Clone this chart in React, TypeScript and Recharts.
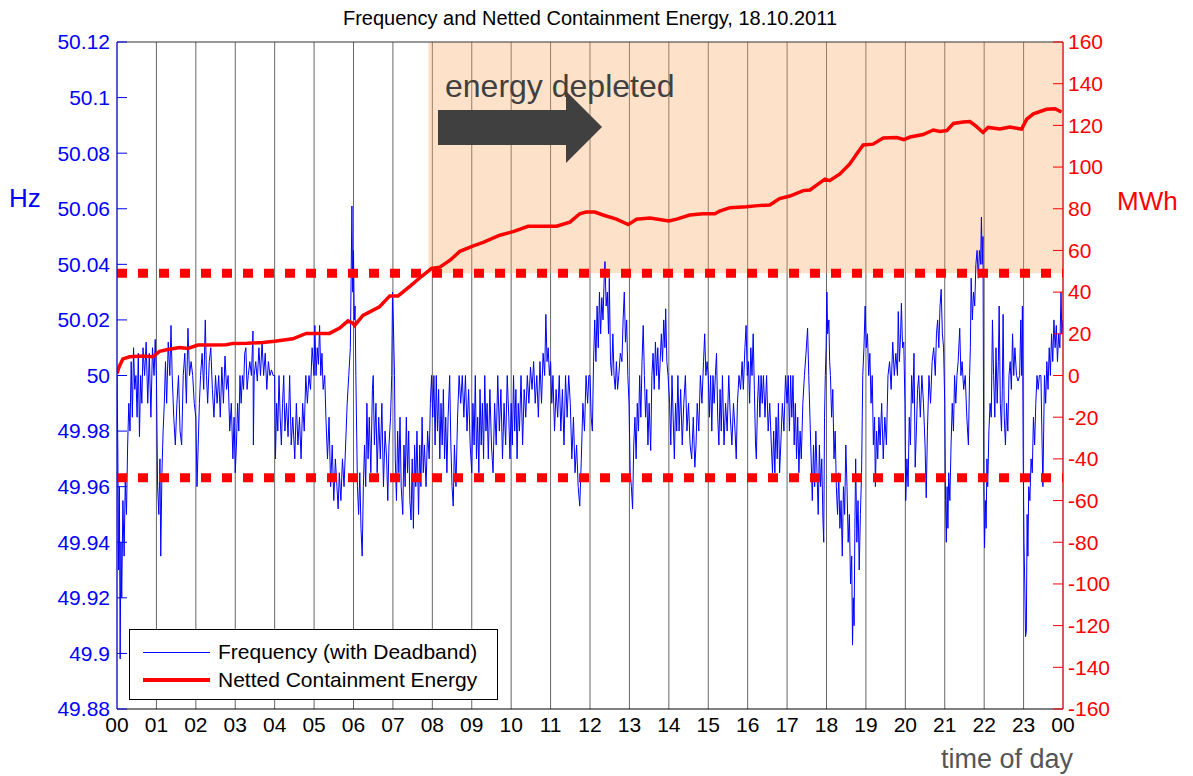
import React from 'react'
import {
  ComposedChart, Line, XAxis, YAxis, CartesianGrid,
  ReferenceArea, ReferenceLine,
} from 'recharts'

// hour ticks, axis ticks
const HOURS = [0, 1, 2, 3, 4, 5, 6, 7, 8, 9, 10, 11, 12, 13, 14, 15, 16, 17, 18, 19, 20, 21, 22, 23, 24]
const HZ_TICKS = [49.88, 49.9, 49.92, 49.94, 49.96, 49.98, 50, 50.02, 50.04, 50.06, 50.08, 50.1, 50.12]
const MWH_TICKS = [-160, -140, -120, -100, -80, -60, -40, -20, 0, 20, 40, 60, 80, 100, 120, 140, 160]

// containment band (MWh) and start of the depleted period (hour)
const LIMIT_MWH = 49
const DEPLETED_FROM = 7.9

// frequency with deadband: [hour, Hz]
const FREQ: [number, number][] = [
  [0.00, 50.0], [0.02, 49.975], [0.04, 49.93], [0.06, 49.96], [0.08, 49.898], [0.10, 49.94], [0.12, 49.92], [0.15, 49.955],
  [0.18, 49.935], [0.21, 49.962], [0.24, 49.95], [0.27, 49.975], [0.30, 49.99], [0.33, 49.98], [0.36, 50.005], [0.39, 49.985],
  [0.42, 50.01], [0.45, 49.995], [0.48, 50.0], [0.51, 49.985], [0.54, 50.008], [0.57, 49.978], [0.60, 50.0], [0.63, 49.99],
  [0.66, 50.01], [0.70, 50.0], [0.74, 50.012], [0.78, 49.99], [0.82, 50.008], [0.86, 49.985], [0.90, 50.01], [0.94, 50.0], [0.97, 50.013],
  [1.00, 50.0], [1.03, 49.96], [1.06, 49.95], [1.09, 49.97], [1.11, 49.935], [1.14, 49.965], [1.17, 49.98], [1.20, 49.99],
  [1.23, 50.005], [1.26, 49.99], [1.30, 50.012], [1.34, 50.0], [1.37, 50.018], [1.40, 50.0], [1.44, 49.985], [1.48, 49.975],
  [1.52, 49.99], [1.56, 50.0], [1.60, 49.98], [1.64, 49.975], [1.68, 50.0], [1.72, 50.008], [1.76, 49.99], [1.80, 50.017],
  [1.84, 50.0], [1.88, 50.005], [1.92, 50.0], [1.96, 49.99],
  [2.00, 49.985], [2.03, 49.96], [2.06, 49.975], [2.09, 49.99], [2.12, 50.0], [2.16, 50.008], [2.20, 49.995], [2.24, 50.02],
  [2.27, 50.0], [2.30, 49.99], [2.34, 50.005], [2.38, 50.01], [2.42, 49.995], [2.46, 49.985], [2.50, 50.0], [2.54, 49.99],
  [2.58, 50.0], [2.62, 49.985], [2.66, 50.003], [2.70, 49.99], [2.74, 50.007], [2.78, 49.995], [2.82, 50.0], [2.86, 49.98],
  [2.90, 49.99], [2.94, 49.97], [2.97, 49.985],
  [3.00, 49.965], [3.03, 49.975], [3.06, 49.99], [3.09, 49.98], [3.12, 50.0], [3.15, 49.99], [3.18, 50.0], [3.21, 49.995],
  [3.24, 50.008], [3.27, 50.01], [3.30, 49.995], [3.33, 50.0], [3.37, 50.005], [3.41, 50.0], [3.45, 50.016], [3.46, 49.975],
  [3.48, 50.0], [3.52, 50.005], [3.56, 49.998], [3.60, 50.01], [3.64, 50.0], [3.68, 50.012], [3.72, 50.0], [3.76, 50.008],
  [3.80, 49.995], [3.84, 50.005], [3.88, 50.0], [3.92, 50.002], [3.96, 50.0],
  [4.00, 50.0], [4.02, 49.97], [4.05, 49.99], [4.08, 49.98], [4.11, 50.0], [4.14, 49.985], [4.17, 49.975], [4.20, 49.99],
  [4.23, 50.0], [4.26, 49.98], [4.30, 49.99], [4.34, 49.978], [4.38, 50.0], [4.42, 49.975], [4.46, 49.985], [4.51, 49.97],
  [4.55, 49.99], [4.59, 49.975], [4.63, 49.985], [4.67, 49.97], [4.71, 49.99], [4.75, 49.98], [4.79, 50.0], [4.83, 49.99],
  [4.87, 50.0], [4.91, 49.995], [4.95, 50.01],
  [5.00, 50.0], [5.02, 50.018], [5.05, 50.0], [5.08, 50.01], [5.11, 50.004], [5.14, 50.018], [5.17, 50.0], [5.20, 50.008],
  [5.23, 49.995], [5.27, 50.0], [5.30, 49.985], [5.34, 49.97], [5.38, 49.985], [5.42, 49.96], [5.46, 49.975], [5.50, 49.955],
  [5.54, 49.97], [5.58, 49.96], [5.61, 49.952], [5.64, 49.965], [5.68, 49.955], [5.72, 49.97], [5.76, 49.96], [5.80, 49.975],
  [5.84, 49.99], [5.88, 50.0], [5.92, 50.01], [5.96, 50.061],
  [5.98, 50.03], [6.00, 50.045], [6.02, 50.02], [6.04, 50.025], [6.06, 50.0], [6.08, 49.98], [6.10, 49.96], [6.13, 49.95],
  [6.16, 49.965], [6.19, 49.945], [6.22, 49.935], [6.25, 49.96], [6.28, 49.975], [6.31, 49.96], [6.34, 49.99], [6.37, 49.97],
  [6.40, 49.985], [6.44, 49.965], [6.48, 49.995], [6.50, 50.0], [6.53, 49.975], [6.57, 49.99], [6.60, 49.965], [6.64, 49.985],
  [6.68, 49.97], [6.72, 49.99], [6.76, 49.96], [6.80, 49.98], [6.84, 49.97], [6.87, 49.955], [6.90, 49.975], [6.94, 49.985],
  [6.97, 50.0], [6.99, 50.03], [7.01, 50.02], [7.04, 50.0],
  [7.06, 49.97], [7.09, 49.955], [7.12, 49.98], [7.15, 49.965], [7.18, 49.985], [7.21, 49.96], [7.25, 49.95], [7.28, 49.975],
  [7.31, 49.96], [7.34, 49.985], [7.37, 49.965], [7.40, 49.98], [7.43, 49.955], [7.46, 49.948], [7.49, 49.97], [7.52, 49.945],
  [7.55, 49.975], [7.58, 49.96], [7.61, 49.98], [7.65, 49.95], [7.68, 49.975], [7.71, 49.96], [7.74, 49.985], [7.77, 49.965],
  [7.80, 49.975], [7.84, 49.96], [7.88, 49.98], [7.92, 49.97], [7.95, 49.99],
  [7.98, 50.0], [8.01, 49.985], [8.04, 50.0], [8.07, 49.975], [8.10, 50.0], [8.13, 49.98], [8.16, 49.995], [8.19, 49.97],
  [8.22, 49.99], [8.25, 49.975], [8.28, 49.995], [8.31, 49.97], [8.34, 49.985], [8.37, 49.965], [8.40, 49.985], [8.44, 50.0],
  [8.47, 49.975], [8.50, 49.96], [8.53, 49.953], [8.56, 49.975], [8.60, 49.96], [8.64, 49.985], [8.68, 50.0], [8.72, 49.99],
  [8.76, 50.0], [8.80, 49.985], [8.84, 50.0], [8.88, 49.98], [8.92, 49.995], [8.96, 49.975],
  [9.00, 49.965], [9.03, 49.99], [9.06, 49.975], [9.09, 50.0], [9.12, 49.97], [9.15, 49.985], [9.18, 49.965], [9.21, 49.995],
  [9.24, 49.975], [9.27, 49.99], [9.30, 49.97], [9.33, 50.0], [9.36, 49.98], [9.39, 49.99], [9.42, 49.97], [9.46, 49.995],
  [9.50, 49.975], [9.54, 49.965], [9.58, 49.99], [9.62, 49.975], [9.66, 50.0], [9.70, 49.98], [9.74, 49.995], [9.78, 49.97],
  [9.82, 49.99], [9.86, 49.975], [9.90, 50.0], [9.94, 49.985], [9.97, 49.97],
  [10.00, 49.99], [10.03, 49.975], [10.06, 50.0], [10.09, 49.98], [10.12, 49.995], [10.15, 49.97], [10.18, 49.99], [10.21, 49.98],
  [10.25, 50.0], [10.29, 49.975], [10.33, 49.995], [10.37, 49.985], [10.41, 50.0], [10.45, 49.99], [10.49, 50.003], [10.53, 49.995],
  [10.57, 50.005], [10.61, 49.99], [10.65, 50.0], [10.69, 49.985], [10.73, 50.005], [10.77, 49.99], [10.81, 50.008], [10.85, 50.0],
  [10.88, 50.022], [10.91, 50.005], [10.94, 50.01], [10.97, 50.0],
  [11.00, 50.005], [11.03, 49.99], [11.06, 50.0], [11.10, 49.98], [11.14, 49.995], [11.18, 49.985], [11.22, 50.0], [11.26, 49.98],
  [11.30, 49.995], [11.34, 49.975], [11.38, 50.0], [11.42, 49.985], [11.46, 50.0], [11.50, 49.99], [11.54, 49.97], [11.58, 49.985],
  [11.62, 49.965], [11.66, 49.975], [11.70, 49.96], [11.74, 49.953], [11.78, 49.97], [11.82, 49.99], [11.86, 49.98], [11.90, 50.0],
  [11.94, 49.99], [11.97, 50.0],
  [12.00, 50.0], [12.03, 49.985], [12.06, 49.98], [12.09, 50.005], [12.12, 50.02], [12.15, 50.005], [12.18, 50.025], [12.21, 50.01],
  [12.24, 50.03], [12.27, 50.015], [12.30, 50.028], [12.33, 50.02], [12.36, 50.035], [12.38, 50.041], [12.41, 50.025], [12.44, 50.03],
  [12.47, 50.015], [12.49, 50.035], [12.52, 50.005], [12.55, 50.0], [12.58, 50.015], [12.61, 50.0], [12.64, 49.995], [12.67, 50.005],
  [12.70, 49.995], [12.73, 50.0], [12.77, 50.008], [12.81, 50.005], [12.84, 50.02], [12.87, 50.03], [12.90, 50.012], [12.93, 50.02],
  [12.96, 50.0], [12.99, 49.99],
  [13.02, 49.965], [13.05, 49.96], [13.08, 49.952], [13.11, 49.975], [13.14, 49.985], [13.17, 49.97], [13.20, 49.99], [13.23, 49.98],
  [13.26, 50.0], [13.29, 49.985], [13.32, 50.005], [13.35, 50.018], [13.38, 50.0], [13.41, 49.985], [13.44, 49.995], [13.47, 49.975],
  [13.50, 49.99], [13.54, 49.973], [13.57, 50.0], [13.60, 50.008], [13.63, 49.995], [13.66, 50.012], [13.69, 50.0], [13.72, 50.01],
  [13.75, 49.995], [13.78, 50.005], [13.81, 50.015], [13.84, 50.005], [13.87, 50.02], [13.90, 50.01], [13.92, 50.024], [13.95, 50.005],
  [13.98, 50.0],
  [14.02, 49.99], [14.05, 49.975], [14.08, 50.0], [14.11, 49.985], [14.14, 49.97], [14.17, 49.99], [14.20, 49.98], [14.23, 50.0],
  [14.26, 49.98], [14.30, 49.995], [14.34, 49.975], [14.38, 49.99], [14.42, 50.0], [14.46, 49.98], [14.50, 49.99], [14.54, 49.975],
  [14.58, 49.97], [14.62, 49.985], [14.66, 49.967], [14.69, 49.975], [14.72, 49.99], [14.76, 49.98], [14.80, 50.0], [14.84, 49.99],
  [14.88, 50.005], [14.91, 50.015], [14.94, 50.0], [14.97, 50.005],
  [15.00, 50.0], [15.03, 49.985], [15.06, 50.0], [15.09, 49.98], [15.12, 50.0], [15.15, 49.99], [15.18, 50.0], [15.21, 50.008],
  [15.24, 49.985], [15.27, 49.975], [15.30, 49.995], [15.33, 49.98], [15.36, 50.0], [15.40, 49.975], [15.44, 49.99], [15.48, 49.98],
  [15.52, 50.0], [15.56, 49.985], [15.60, 49.975], [15.64, 49.99], [15.68, 49.98], [15.71, 49.97], [15.74, 49.99], [15.78, 50.0],
  [15.82, 49.995], [15.86, 50.005], [15.89, 49.995], [15.93, 50.01], [15.96, 50.018], [15.99, 50.0],
  [16.02, 50.005], [16.05, 49.99], [16.08, 50.01], [16.11, 50.0], [16.14, 50.015], [16.17, 49.995], [16.20, 49.975], [16.22, 49.97],
  [16.25, 49.99], [16.28, 50.0], [16.31, 49.985], [16.34, 50.0], [16.37, 49.99], [16.40, 50.0], [16.44, 49.985], [16.48, 50.0],
  [16.52, 49.98], [16.56, 49.99], [16.60, 49.975], [16.63, 49.965], [16.66, 49.98], [16.69, 49.965], [16.72, 49.985], [16.75, 49.97],
  [16.78, 49.99], [16.81, 49.965], [16.84, 49.975], [16.88, 49.99], [16.92, 49.98], [16.96, 50.0],
  [17.00, 49.99], [17.03, 50.0], [17.06, 49.98], [17.09, 50.0], [17.12, 49.985], [17.15, 50.0], [17.18, 49.975], [17.21, 49.99],
  [17.24, 49.97], [17.27, 49.985], [17.30, 49.965], [17.33, 49.98], [17.36, 49.97], [17.40, 49.99], [17.44, 50.0], [17.48, 50.008],
  [17.52, 50.017], [17.55, 50.0], [17.58, 49.985], [17.61, 49.97], [17.64, 49.955], [17.67, 49.975], [17.70, 49.96], [17.73, 49.98],
  [17.76, 49.965], [17.79, 49.95], [17.82, 49.975], [17.85, 49.96], [17.88, 49.97], [17.91, 49.948], [17.93, 49.94], [17.95, 49.985],
  [17.97, 50.0],
  [17.99, 50.01], [18.01, 50.03], [18.03, 50.015], [18.06, 50.02], [18.08, 50.005], [18.10, 50.0], [18.13, 49.985], [18.16, 49.995],
  [18.19, 49.97], [18.22, 49.98], [18.25, 49.96], [18.28, 49.95], [18.31, 49.965], [18.34, 49.945], [18.37, 49.955], [18.40, 49.935],
  [18.43, 49.96], [18.46, 49.95], [18.49, 49.975], [18.52, 49.96], [18.55, 49.94], [18.58, 49.95], [18.61, 49.925], [18.64, 49.935],
  [18.66, 49.903], [18.68, 49.92], [18.70, 49.91], [18.72, 49.945], [18.74, 49.97], [18.77, 49.94], [18.80, 49.955], [18.83, 49.93],
  [18.86, 49.95], [18.89, 49.965], [18.92, 50.0],
  [18.95, 50.01], [18.98, 50.025], [19.01, 50.01], [19.04, 50.015], [19.07, 50.0], [19.10, 50.008], [19.13, 49.99], [19.16, 50.0],
  [19.19, 49.975], [19.22, 49.985], [19.24, 49.96], [19.27, 49.98], [19.30, 49.97], [19.33, 49.985], [19.36, 49.975], [19.40, 49.99],
  [19.44, 49.97], [19.48, 49.985], [19.52, 49.975], [19.56, 50.0], [19.60, 50.005], [19.64, 49.995], [19.68, 50.012], [19.72, 50.0],
  [19.76, 50.008], [19.80, 50.0], [19.82, 50.023], [19.85, 50.005], [19.88, 50.015], [19.90, 50.026], [19.93, 50.01], [19.96, 50.012],
  [19.99, 49.99], [20.01, 49.955], [20.04, 49.97], [20.07, 49.96], [20.10, 49.985], [20.13, 49.975], [20.16, 50.0], [20.19, 49.99],
  [20.22, 50.008], [20.25, 49.967], [20.28, 49.98], [20.31, 49.995], [20.34, 50.0], [20.38, 49.985], [20.42, 50.0], [20.46, 49.99],
  [20.50, 49.975], [20.53, 49.956], [20.56, 49.98], [20.60, 50.0], [20.64, 49.99], [20.68, 50.005], [20.72, 50.01], [20.76, 50.0],
  [20.79, 50.015], [20.82, 50.02], [20.85, 50.01], [20.88, 50.025], [20.91, 50.031], [20.94, 50.015], [20.97, 50.01],
  [21.00, 49.99], [21.02, 49.955], [21.04, 49.94], [21.06, 49.96], [21.08, 49.945], [21.10, 49.965], [21.13, 49.955], [21.16, 49.975],
  [21.19, 49.99], [21.22, 49.98], [21.25, 50.0], [21.28, 49.99], [21.31, 50.0], [21.34, 50.005], [21.38, 50.017], [21.41, 50.0],
  [21.44, 50.005], [21.48, 49.995], [21.52, 50.0], [21.56, 49.985], [21.60, 49.975], [21.63, 50.0], [21.65, 50.01], [21.67, 50.035],
  [21.70, 50.02], [21.73, 50.03], [21.76, 50.025], [21.79, 50.04], [21.82, 50.045], [21.85, 50.035], [21.88, 50.045], [21.91, 50.04],
  [21.93, 50.057], [21.95, 50.04], [21.97, 50.05],
  [21.99, 49.96], [22.01, 49.938], [22.03, 49.955], [22.05, 49.945], [22.07, 49.97], [22.09, 49.96], [22.12, 49.98], [22.15, 49.99],
  [22.18, 49.985], [22.21, 50.02], [22.24, 50.0], [22.27, 49.985], [22.30, 50.01], [22.33, 49.99], [22.36, 50.005], [22.38, 50.025],
  [22.41, 49.99], [22.44, 49.98], [22.46, 49.995], [22.48, 50.022], [22.51, 49.985], [22.54, 49.975], [22.57, 49.99], [22.60, 49.98],
  [22.63, 50.0], [22.66, 50.005], [22.69, 49.995], [22.72, 50.015], [22.75, 50.0], [22.78, 50.01], [22.82, 50.0], [22.86, 49.998],
  [22.90, 50.0], [22.93, 50.02], [22.95, 50.0], [22.97, 50.025],
  [22.99, 49.97], [23.01, 49.94], [23.03, 49.925], [23.05, 49.906], [23.07, 49.908], [23.09, 49.95], [23.11, 49.935], [23.13, 49.96],
  [23.16, 49.955], [23.19, 49.97], [23.22, 49.965], [23.25, 49.985], [23.28, 49.975], [23.31, 49.99], [23.34, 50.0], [23.37, 49.995],
  [23.40, 50.0], [23.44, 50.0], [23.47, 49.975], [23.49, 49.96], [23.51, 49.98], [23.53, 50.0], [23.56, 49.99], [23.59, 50.005],
  [23.62, 49.995], [23.65, 50.01], [23.68, 50.0], [23.71, 50.015], [23.74, 50.005], [23.77, 50.02], [23.80, 50.01], [23.83, 50.018],
  [23.86, 50.005], [23.89, 50.015], [23.92, 50.01], [23.95, 50.03], [23.97, 50.015], [24.0, 50.02],
]

// netted containment energy: [hour, MWh]
const ENERGY: [number, number][] = [
  [0, 1], [0.05, 4], [0.15, 8], [0.32, 9], [0.66, 9.4], [0.91, 9], [1.08, 11.6], [1.29, 12.5], [1.59, 13.4], [1.8, 13],
  [2.05, 14.6], [2.35, 14.6], [2.77, 14.8], [2.94, 15.4], [3.3, 15.5], [3.7, 15.8], [4.0, 16.4], [4.46, 17.6], [4.8, 20.2],
  [5.39, 20.2], [5.65, 22.8], [5.86, 26.2], [5.99, 25], [6.03, 24], [6.24, 28.8], [6.66, 33], [6.92, 38.2], [7.13, 38.2],
  [7.43, 42.8], [7.73, 47.6], [7.98, 51.4], [8.19, 52], [8.45, 55.3], [8.7, 59.6], [9.04, 62.2], [9.29, 63.9], [9.71, 67.3],
  [10.05, 69], [10.43, 71.6], [11.15, 71.6], [11.49, 73.6], [11.74, 77.6], [11.9, 78.4], [12.12, 78.4], [12.33, 77],
  [12.67, 75], [12.97, 72.4], [13.18, 75], [13.52, 75.5], [14.0, 74.1], [14.2, 75], [14.53, 77], [14.87, 77.6], [15.17, 77.6],
  [15.29, 78.9], [15.55, 80.5], [15.97, 81], [16.26, 81.5], [16.56, 81.8], [16.81, 84.9], [17.07, 86.1], [17.41, 88.7],
  [17.58, 89], [17.75, 91.3], [17.96, 94.2], [18.08, 93.5], [18.34, 96.7], [18.59, 101.5], [18.76, 106.2], [18.93, 110.6],
  [19.18, 111], [19.44, 113.9], [19.78, 114.2], [19.96, 113.2], [20.12, 114.4], [20.45, 115.6], [20.71, 117.8], [20.88, 117.1],
  [21.05, 117.5], [21.22, 120.9], [21.47, 121.6], [21.64, 121.8], [21.8, 119.5], [21.97, 116.6], [22.1, 119], [22.4, 118.3],
  [22.65, 119.2], [22.95, 118.2], [23.08, 123], [23.25, 125.5], [23.58, 127.7], [23.8, 128], [23.96, 126.4],
]

const BLUE = '#0000FF'
const RED = '#FF0000'
const FONT = '"Liberation Sans", Arial, sans-serif'

const freqData = FREQ.map(([t, hz]) => ({ t, hz }))
const energyData = ENERGY.map(([t, mwh]) => ({ t, mwh }))
// band limits drawn left to right so the dash pattern starts at 00
const upperBand = [{ t: 0, v: LIMIT_MWH }, { t: 24, v: LIMIT_MWH }]
const lowerBand = [{ t: 0, v: -LIMIT_MWH }, { t: 24, v: -LIMIT_MWH }]

const hzLabel = (v: number) => String(Number(v.toFixed(2)))
const hourLabel = (h: number) => String(h % 24).padStart(2, '0')

// MATLAB style: ticks point into the plot
const LeftTick = ({ x, y, payload }: any) => (
  <g>
    <line x1={x + 7} x2={x + 17} y1={y} y2={y} stroke={BLUE} />
    <text x={x} y={y} dy="0.35em" textAnchor="end" fill={BLUE} fontSize={21} fontFamily={FONT}>
      {hzLabel(payload.value)}
    </text>
  </g>
)

const RightTick = ({ x, y, payload }: any) => (
  <g>
    <line x1={x - 5} x2={x - 15} y1={y} y2={y} stroke={RED} />
    <text x={x} y={y} dy="0.35em" textAnchor="start" fill={RED} fontSize={21} fontFamily={FONT}>
      {payload.value}
    </text>
  </g>
)

const LEGEND_ITEMS: [string, string, number][] = [
  ['Frequency (with Deadband)', BLUE, 1],
  ['Netted Containment Energy', RED, 3.5],
]

const LegendBox = () => (
  <div style={{
    position: 'absolute', left: 129, top: 629, width: 369, height: 71,
    border: '1px solid #000', background: '#fff', boxSizing: 'border-box',
    fontFamily: FONT, fontSize: 21, color: '#000', padding: '8px 0 0 13px',
  }}>
    {LEGEND_ITEMS.map(([label, color, w]) => (
      <div key={label} style={{ display: 'flex', alignItems: 'center', height: 28, lineHeight: '28px' }}>
        <span style={{ display: 'inline-block', width: 67, height: w, background: color, marginRight: 8 }} />
        <span style={{ whiteSpace: 'nowrap' }}>{label}</span>
      </div>
    ))}
  </div>
)

export default function App() {
  return (
    <div style={{ position: 'absolute', left: 0, top: 0, width: 1193, height: 776, background: '#fff', fontFamily: FONT }}>
      <ComposedChart width={1193} height={776} margin={{ top: 42, right: 0, bottom: 0, left: 0 }}>
        <ReferenceArea x1={DEPLETED_FROM} x2={24} y1={LIMIT_MWH} y2={160} yAxisId="right"
          fill="#F9A860" fillOpacity={0.35} stroke="none" ifOverflow="visible" />
        <CartesianGrid horizontal={false} stroke="#555" strokeOpacity={0.9} />
        <XAxis dataKey="t" type="number" domain={[0, 24]} ticks={HOURS} tickFormatter={hourLabel}
          height={67} tickSize={0} tickMargin={8} tickLine={false} interval={0}
          axisLine={{ stroke: '#000' }} tick={{ fill: '#000', fontSize: 21, fontFamily: FONT }} allowDataOverflow />
        <YAxis yAxisId="left" orientation="left" domain={[49.88, 50.12]} ticks={HZ_TICKS} width={117}
          tickSize={0} tickMargin={7} tickLine={false} interval={0} axisLine={{ stroke: BLUE }} tick={<LeftTick />} allowDataOverflow />
        <YAxis yAxisId="right" orientation="right" domain={[-160, 160]} ticks={MWH_TICKS} width={130}
          tickSize={0} tickMargin={5} tickLine={false} interval={0} axisLine={{ stroke: RED }} tick={<RightTick />} allowDataOverflow />
        <ReferenceLine yAxisId="right" y={160} stroke="#333" />
        <Line yAxisId="left" data={freqData} dataKey="hz" type="linear" stroke={BLUE} strokeWidth={1}
          dot={false} activeDot={false} isAnimationActive={false} name="Frequency (with Deadband)" />
        <Line yAxisId="right" data={upperBand} dataKey="v" type="linear" stroke={RED} strokeWidth={9}
          strokeDasharray="10 11" dot={false} activeDot={false} isAnimationActive={false} legendType="none" />
        <Line yAxisId="right" data={lowerBand} dataKey="v" type="linear" stroke={RED} strokeWidth={9}
          strokeDasharray="10 11" dot={false} activeDot={false} isAnimationActive={false} legendType="none" />
        <Line yAxisId="right" data={energyData} dataKey="mwh" type="linear" stroke={RED} strokeWidth={3.5}
          dot={false} activeDot={false} isAnimationActive={false} name="Netted Containment Energy" />
      </ComposedChart>
      <LegendBox />
      <svg width={1193} height={776} style={{ position: 'absolute', left: 0, top: 0, pointerEvents: 'none' }} fontFamily={FONT}>
        <text x={590} y={25} textAnchor="middle" fontSize={20} fill="#000">
          Frequency and Netted Containment Energy, 18.10.2011
        </text>
        <text x={9} y={207} fontSize={26} fill={BLUE}>Hz</text>
        <text x={1117} y={210} fontSize={26} fill={RED}>MWh</text>
        <text x={941} y={768} fontSize={27} fill="#555">time of day</text>
        <polygon points="438,110 566,110 566,91 602,127 566,163 566,145 438,145" fill="#404040" />
        <text x={445} y={97} fontSize={32} fill="#404040">energy depleted</text>
      </svg>
    </div>
  )
}
